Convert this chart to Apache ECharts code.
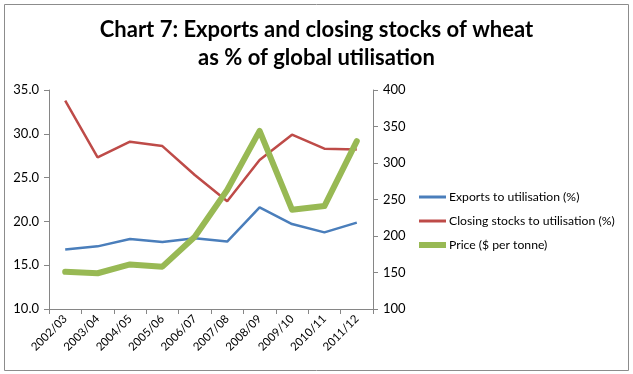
<!DOCTYPE html>
<html><head><meta charset="utf-8">
<script src="https://cdn.jsdelivr.net/npm/echarts@6/dist/echarts.min.js"></script>
<style>html,body{margin:0;padding:0;background:#fff}#c{width:633px;height:374px}</style>
</head><body><div id="c"></div>
<script>
const categories = ['2002/03','2003/04','2004/05','2005/06','2006/07','2007/08','2008/09','2009/10','2010/11','2011/12'];
const exportsPct = [16.8,17.15,18.0,17.65,18.07,17.7,21.6,19.7,18.75,19.86];
const stocksPct = [33.8,27.3,29.1,28.6,25.3,22.3,27.0,29.9,28.3,28.2];
const price = [151,149,161,158,199,263,344,236,241,330];
const leftTicks = [10,35,5];
const rightTicks = [100,400,50];
const seriesNames = ['Exports to utilisation (%)','Closing stocks to utilisation (%)','Price ($ per tonne)'];
const colors = ['#4a7ebb','#be4b48','#98b954'];

const FONT = 'Lato, "Open Sans", sans-serif';
const chart = echarts.init(document.getElementById('c'), null, {renderer:'canvas'});
const axisLine = {show:true, lineStyle:{color:'#868686', width:1}};
const mkLegend = (i, top, h) => ({
  data:[seriesNames[i]], left:419, top:top, orient:'vertical',
  itemWidth:27, itemHeight:h, itemGap:0, padding:0,
  icon:'rect', textStyle:{fontFamily:FONT, fontSize:12.2, color:'#000', padding:[0,0,0,-2]},
  selectedMode:false
});
chart.setOption({
  animation:false,
  graphic:[{type:'rect', shape:{x:4.5,y:4.5,width:624,height:366}, style:{fill:'none', stroke:'#8c8c8c', lineWidth:1}}],
  title:{text:'Chart 7: Exports and closing stocks of wheat\nas % of global utilisation', left:'center', top:11,
    textStyle:{fontFamily:FONT, fontSize:22, fontWeight:'bold', color:'#000', lineHeight:28}},
  legend:[mkLegend(0,191,3), mkLegend(1,215,3), mkLegend(2,239,6)],
  grid:{left:49, right:260, top:90, bottom:65},
  xAxis:{type:'category', data:categories, boundaryGap:true,
    axisLine:axisLine, axisTick:{show:true, length:5, lineStyle:{color:'#868686'}},
    axisLabel:{rotate:45, fontFamily:FONT, fontSize:11.5, color:'#000', margin:8, interval:0}},
  yAxis:[
    {type:'value', min:leftTicks[0], max:leftTicks[1], interval:leftTicks[2], position:'left',
     axisLine:axisLine, axisTick:{show:true, length:5, lineStyle:{color:'#868686'}}, splitLine:{show:false},
     axisLabel:{formatter:v=>v.toFixed(1), fontFamily:FONT, fontSize:13, color:'#000', margin:10}},
    {type:'value', min:rightTicks[0], max:rightTicks[1], interval:rightTicks[2], position:'right',
     axisLine:axisLine, axisTick:{show:true, length:5, lineStyle:{color:'#868686'}}, splitLine:{show:false},
     axisLabel:{fontFamily:FONT, fontSize:13, color:'#000', margin:10}}
  ],
  series:[
    {name:seriesNames[0], type:'line', data:exportsPct, yAxisIndex:0, showSymbol:false, symbol:'none',
     lineStyle:{color:colors[0], width:2.5}, itemStyle:{color:colors[0]}},
    {name:seriesNames[1], type:'line', data:stocksPct, yAxisIndex:0, showSymbol:false, symbol:'none',
     lineStyle:{color:colors[1], width:2.5}, itemStyle:{color:colors[1]}},
    {name:seriesNames[2], type:'line', data:price, yAxisIndex:1, showSymbol:false, symbol:'none',
     lineStyle:{color:colors[2], width:6, cap:'round', join:'round'}, itemStyle:{color:colors[2]}}
  ]
});
</script></body></html>
